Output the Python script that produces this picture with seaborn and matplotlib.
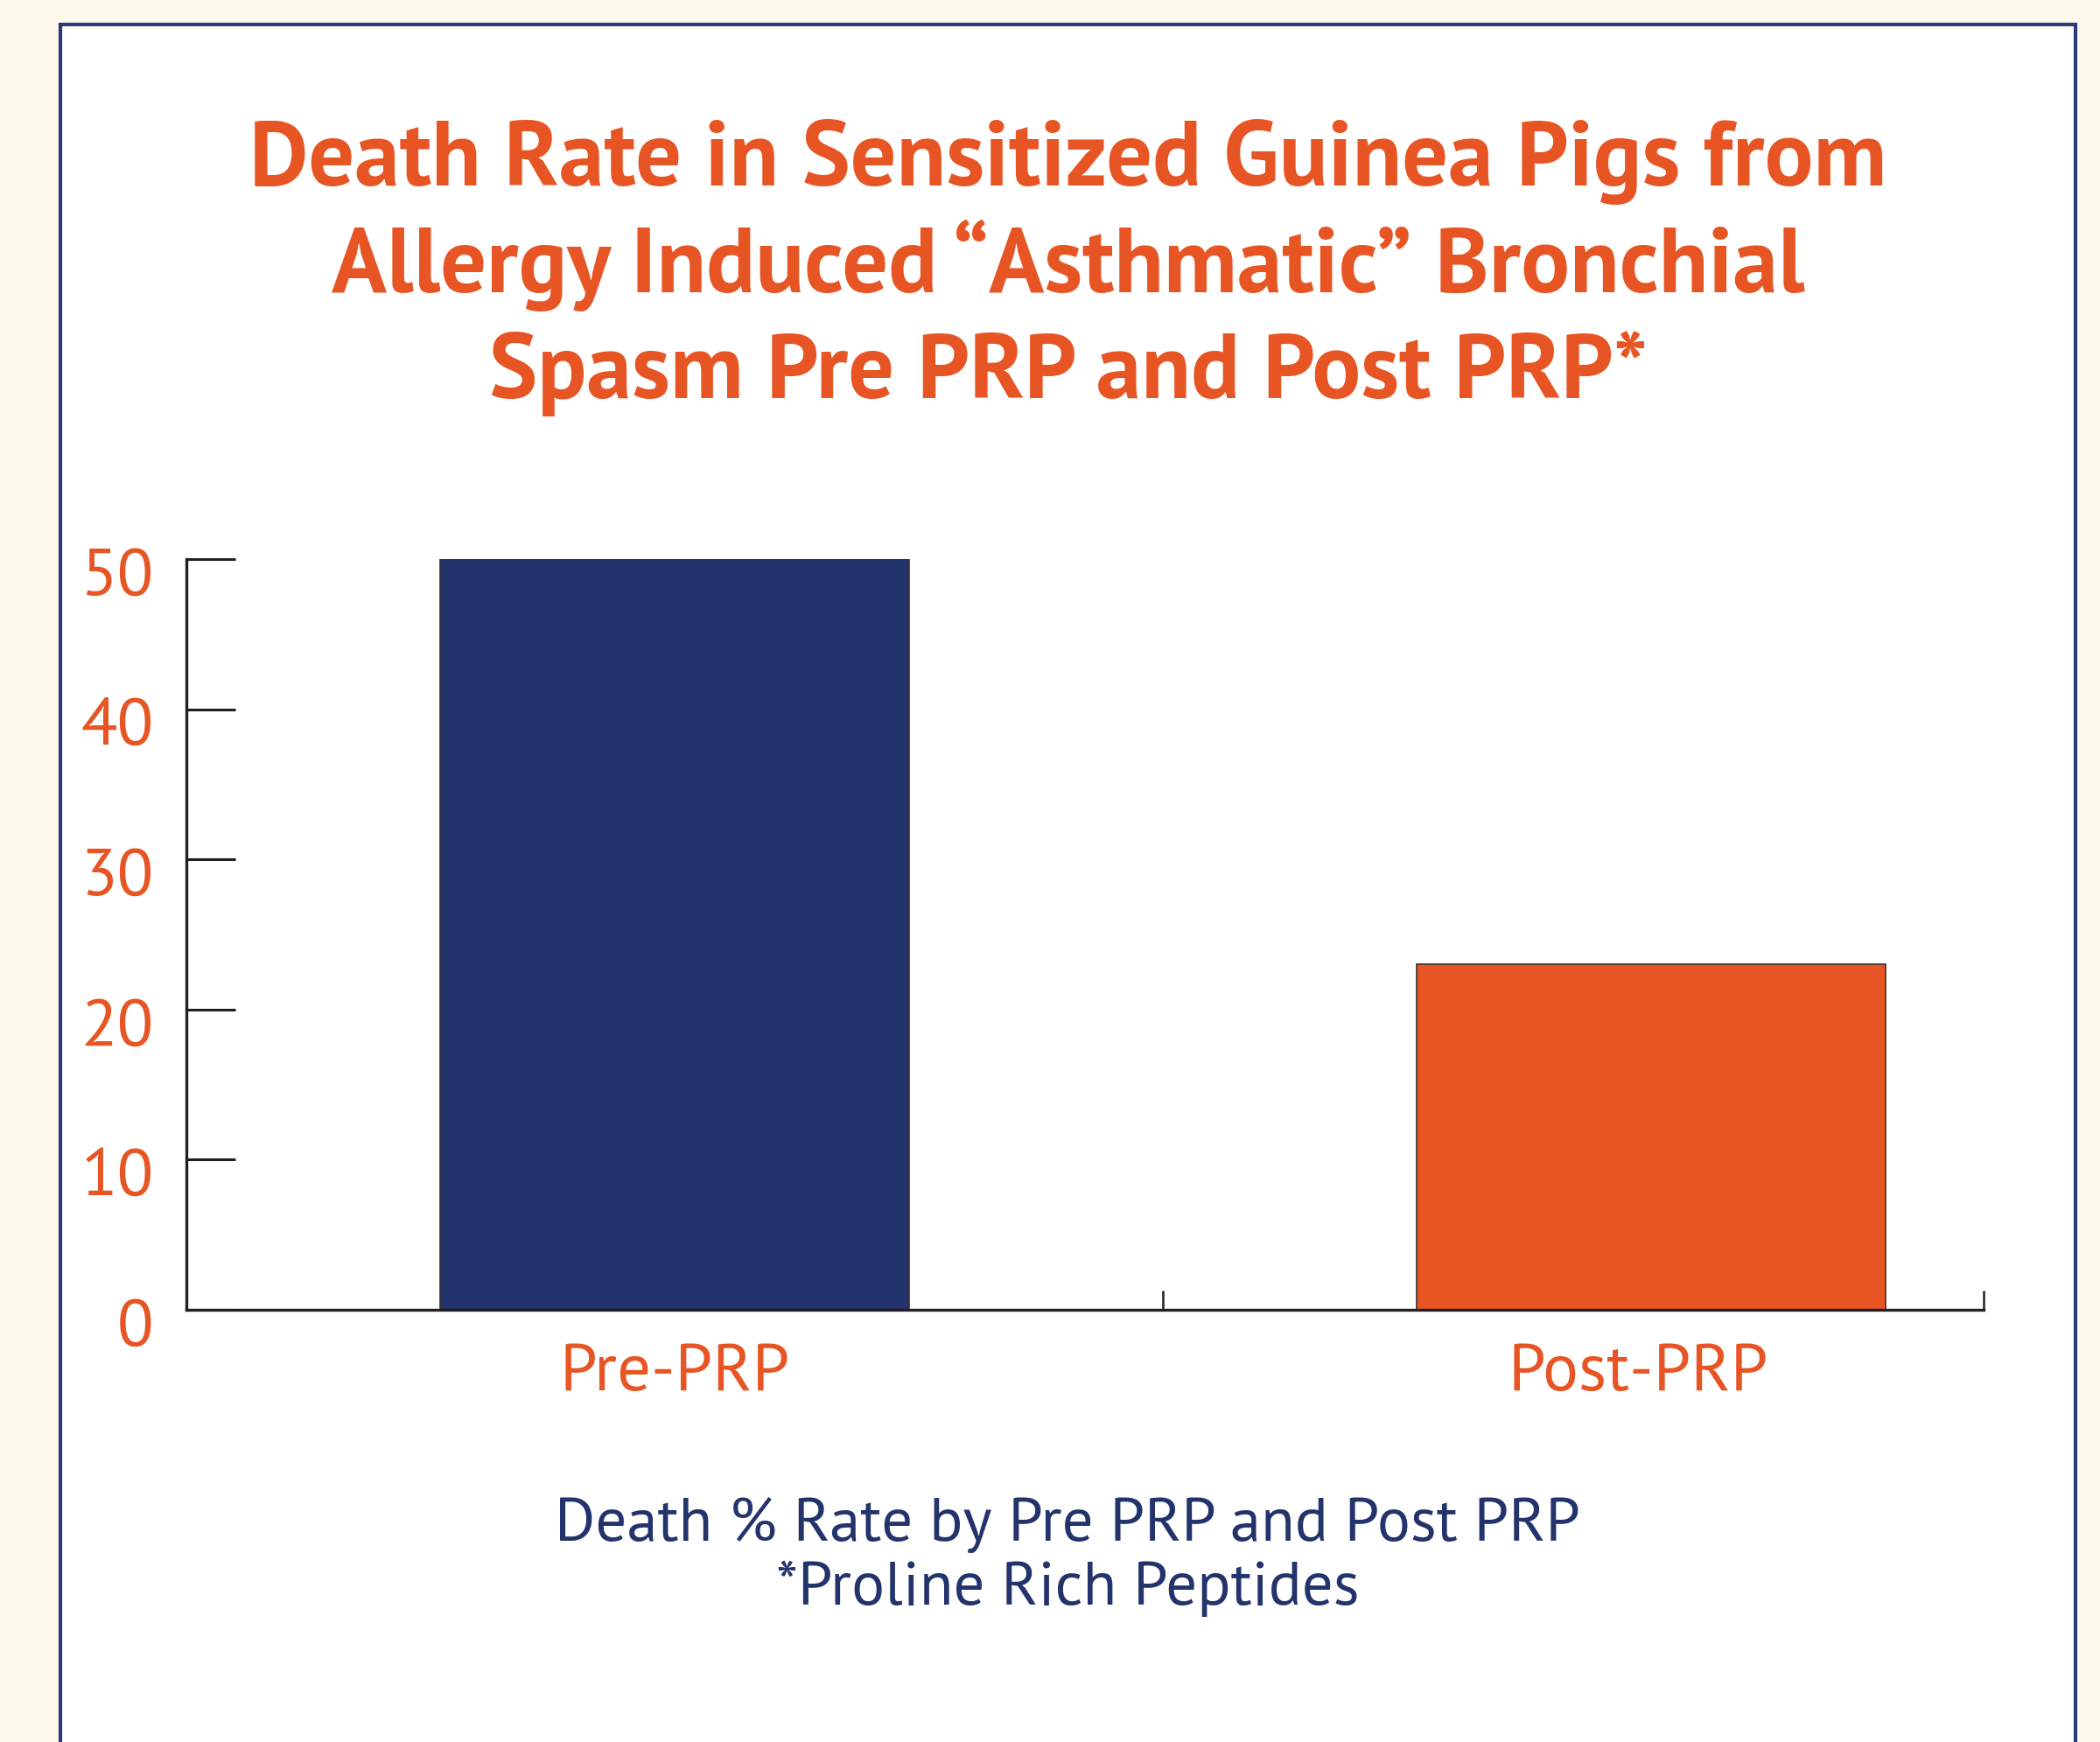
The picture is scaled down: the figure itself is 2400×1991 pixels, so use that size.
import matplotlib
matplotlib.use("Agg")
import matplotlib.pyplot as plt
from matplotlib.patches import Rectangle
from matplotlib.transforms import ScaledTranslation
import seaborn as sns
import pandas as pd

# ---- data ----
categories = ["Pre-PRP", "Post-PRP"]
death_rate = [50, 23]
bar_colors = ["#23336B", "#E85524"]
y_ticks = [0, 10, 20, 30, 40, 50]
title_lines = ["Death Rate in Sensitized Guinea Pigs from",
               "Allergy Induced \u201cAsthmatic\u201d Bronchial",
               "Spasm Pre PRP and Post PRP*"]
note_lines = ["Death % Rate by Pre PRP and Post PRP",
              "*Proline Rich Peptides"]

ORANGE = "#E85524"
NAVY = "#23336B"
W, H, DPI = 2400, 1991, 100

sns.set_theme(style="white")
plt.rcParams['font.family'] = ['PT Sans', 'Open Sans', 'DejaVu Sans']

fig = plt.figure(figsize=(W / DPI, H / DPI), dpi=DPI)
fig.patch.set_facecolor("#FCF8EC")

# white panel with navy border
panel = Rectangle((69 / W, -0.05), (2372 - 69) / W, 1.05 - 28 / H,
                  transform=fig.transFigure, facecolor="white",
                  edgecolor="#2B3A78", linewidth=3, zorder=-1)
fig.patches.append(panel)

ax = fig.add_axes([213 / W, 1 - 1497 / H, 2054 / W, 858 / H])
ax.set_zorder(1)
ax.set_facecolor("none")
df = pd.DataFrame({"cat": categories, "val": death_rate})
sns.barplot(data=df, x="cat", y="val", hue="cat", palette=bar_colors,
            saturation=1, width=0.48, edgecolor="#3A3030", linewidth=1.2,
            legend=False, ax=ax, zorder=2)

ax.set_xlim(-0.5, 1.3405)
ax.set_ylim(0, 50)
ax.set_xlabel("")
ax.set_ylabel("")
for s in ["top", "right"]:
    ax.spines[s].set_visible(False)
for s in ["left", "bottom"]:
    ax.spines[s].set_color("#231F20")
    ax.spines[s].set_linewidth(2.4)
    ax.spines[s].set_zorder(3)

ax.set_yticks(y_ticks)
ax.set_yticklabels([str(t) for t in y_ticks])
ax.tick_params(axis="y", left=True, direction="in", length=40, width=2.2,
               color="#231F20", pad=27, labelsize=55, labelcolor=ORANGE)
ax.set_xticks([0, 1])
ax.set_xticklabels(categories)
ax.tick_params(axis="x", which="major", bottom=True, length=0, pad=28,
               labelsize=55, labelcolor=ORANGE)
ax.set_xticks([0.5, 1.3405], minor=True)
ax.tick_params(axis="x", which="minor", bottom=True, direction="in", length=16,
               width=1.8, color="#231F20")
for lab in ax.get_yticklabels():
    lab.set_transform(lab.get_transform() + ScaledTranslation(0, -14 / DPI, fig.dpi_scale_trans))
xlabs = ax.get_xticklabels()
xlabs[1].set_transform(xlabs[1].get_transform() + ScaledTranslation(-15 / DPI, 0, fig.dpi_scale_trans))

# title
for line, base in zip(title_lines, [212, 334, 455]):
    fig.text(1221 / W, 1 - base / H, line, ha="center", va="baseline",
             fontsize=75, fontweight="bold", color=ORANGE)

# bottom note
for line, base in zip(note_lines, [1761, 1834]):
    fig.text(1220 / W, 1 - base / H, line, ha="center", va="baseline",
             fontsize=51, color=NAVY)

fig.savefig("out.png", dpi=DPI, facecolor=fig.get_facecolor())
